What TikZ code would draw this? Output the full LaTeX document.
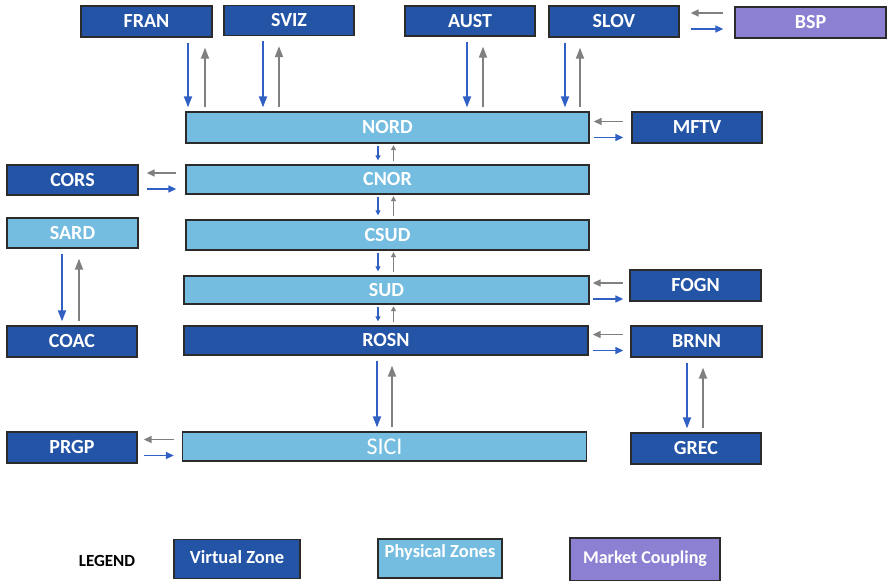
\documentclass[tikz,border=0pt]{standalone}
\usepackage{fontspec}
\setmainfont{Carlito}
\usetikzlibrary{arrows.meta}
\definecolor{vzblue}{HTML}{2454A6}
\definecolor{pzblue}{HTML}{75BDE0}
\definecolor{mcpurple}{HTML}{8B80D1}
\definecolor{arrblue}{HTML}{3060C4}
\definecolor{arrgray}{HTML}{808080}
\definecolor{boxline}{HTML}{2B2B2B}

\newcommand{\vpair}[4]{%
  \coordinate (tmpa) at (#3,0);
  \coordinate (tmpb) at (#4,0);
  \draw[ba] (#1.south -| tmpa) -- (#2.north -| tmpa);
  \draw[ga] (#2.north -| tmpb) -- (#1.south -| tmpb);}
\newcommand{\spair}[2]{%
  \coordinate (tmpa) at (378,0);
  \coordinate (tmpb) at (393.5,0);
  \draw[sb] (#1.south -| tmpa) -- (#2.north -| tmpa);
  \draw[sg] (#2.north -| tmpb) -- (#1.south -| tmpb);}
\newcommand{\hpair}[5]{%
  \coordinate (tmpa) at (0,#3-8);
  \coordinate (tmpb) at (0,#3+8);
  \draw[hg, shorten <=#5pt, shorten >=#4pt] (#2.west |- tmpa) -- (#1.east |- tmpa);
  \draw[hb, shorten <=#4pt, shorten >=#5pt] (#1.east |- tmpb) -- (#2.west |- tmpb);}

\begin{document}
\begin{tikzpicture}[x=1pt,y=-1pt,
  box/.style={draw=boxline, line width=1.3pt, text=white, inner sep=0pt,
    font=\bfseries\fontsize{20}{24}\selectfont, text height=12.9pt, text depth=0pt},
  vz/.style={box, fill=vzblue},
  pz/.style={box, fill=pzblue},
  mc/.style={box, fill=mcpurple},
  sz/.style 2 args={minimum width=#1pt, minimum height=#2pt},
  ba/.style={draw=arrblue, line width=1.8pt, -{Triangle[length=11pt,width=8pt]},
    shorten <=5pt, shorten >=4pt},
  ga/.style={draw=arrgray, line width=1.8pt, -{Triangle[length=11pt,width=8pt]},
    shorten <=4pt, shorten >=10pt},
  hb/.style={draw=arrblue, line width=1.5pt, -{Triangle[length=8pt,width=7pt]}},
  hg/.style={draw=arrgray, line width=1.5pt, -{Triangle[length=8pt,width=7pt]}},
  sb/.style={draw=arrblue, line width=1.3pt, -{Triangle[length=5pt,width=5pt]},
    shorten <=2pt, shorten >=4pt},
  sg/.style={draw=arrgray, line width=1.3pt, -{Triangle[length=5pt,width=5pt]},
    shorten <=3pt, shorten >=1.5pt},
  lg/.style={box, font=\bfseries\fontsize{18.5}{22}\selectfont, text height=12.5pt, text depth=4pt},
]
\useasboundingbox (0,0) rectangle (887,581);

% top row
\node[vz, sz={131}{31}] (fran) at (146.5,21.5) {FRAN};
\node[vz, sz={130}{30}] (sviz) at (289,20.5) {SVIZ};
\node[vz, sz={130}{30}] (aust) at (470,21) {AUST};
\node[vz, sz={130}{31}] (slov) at (614,21.5) {SLOV};
\node[mc, sz={151}{31}] (bsp) at (810.5,22.5) {BSP};

% central column
\node[pz, sz={403}{31}] (nord) at (387.5,127.5) {NORD};
\node[pz, sz={403}{29}] (cnor) at (387.5,179.5) {CNOR};
\node[pz, sz={403}{30}] (csud) at (387.5,235) {CSUD};
\node[pz, sz={405}{28}] (sud) at (386.5,290) {SUD};
\node[vz, sz={404}{29}] (rosn) at (386,340.5) {ROSN};
\node[pz, sz={404}{29}, font=\fontsize{24}{28}\selectfont, text height=15.5pt] (sici) at (384.5,446.5) {SICI};

% left column
\node[vz, sz={131}{30}] (cors) at (72.5,180) {CORS};
\node[pz, sz={131}{30}] (sard) at (72.5,233) {SARD};
\node[vz, sz={130}{31}] (coac) at (72,341.5) {COAC};
\node[vz, sz={130}{31}] (prgp) at (72,447.5) {PRGP};

% right column
\node[vz, sz={130}{31}] (mftv) at (697,127.5) {MFTV};
\node[vz, sz={131}{31}] (fogn) at (695.5,285.5) {FOGN};
\node[vz, sz={131}{31}] (brnn) at (696.5,341.5) {BRNN};
\node[vz, sz={130}{31}] (grec) at (696,448.5) {GREC};

% legend
\node[font=\bfseries\fontsize{17}{20}\selectfont] (legend) at (107,561) {LEGEND};
\node[vz, lg, sz={126}{39}] (lvz) at (237,559) {Virtual Zone};
\node[pz, lg, sz={124}{39}] (lpz) at (440,558.5) {\raisebox{5pt}{Physical Zones}};
\node[mc, lg, sz={150}{43}, font=\bfseries\fontsize{18}{22}\selectfont] (lmc) at (645,559.5) {Market Coupling};

% vertical long arrows
\vpair{fran}{nord}{188}{205}
\vpair{sviz}{nord}{263}{279}
\vpair{aust}{nord}{467}{483}
\vpair{slov}{nord}{565}{580}
\vpair{sard}{coac}{62}{79}
\vpair{rosn}{sici}{377}{392}
\vpair{brnn}{grec}{687}{703}

% short arrows in the column
\spair{nord}{cnor}
\spair{cnor}{csud}
\spair{csud}{sud}
\spair{sud}{rosn}

% horizontal arrows
\hpair{slov}{bsp}{21}{11}{11}
\hpair{nord}{mftv}{129.5}{4}{8}
\hpair{cors}{cnor}{181}{8}{9}
\hpair{sud}{fogn}{291}{3}{6}
\hpair{rosn}{brnn}{342.5}{4}{7}
\hpair{prgp}{sici}{447.5}{6}{8}
\end{tikzpicture}
\end{document}
